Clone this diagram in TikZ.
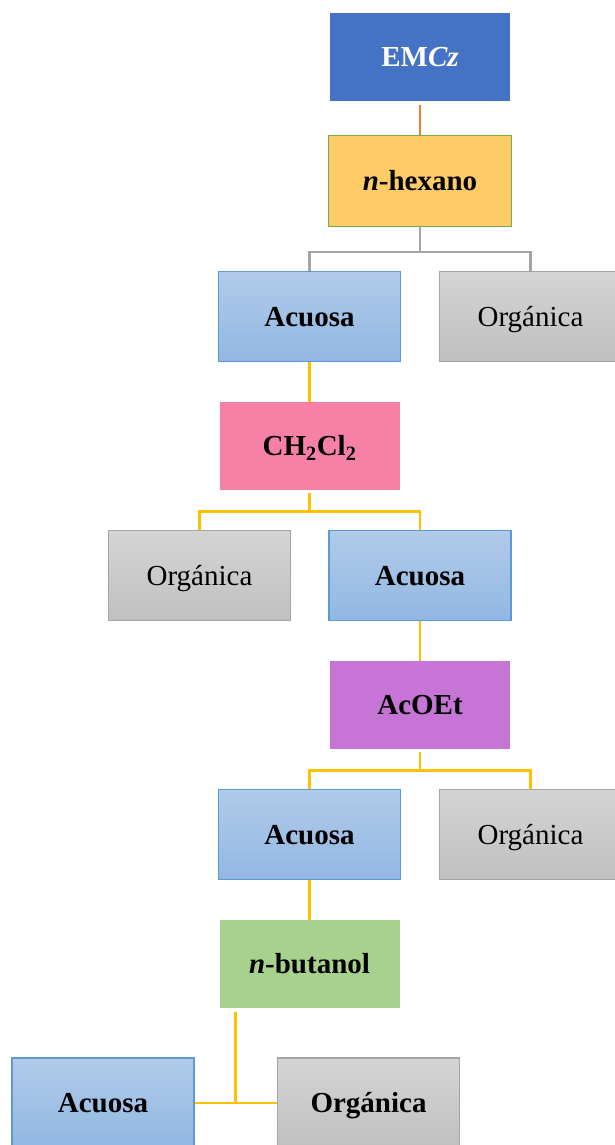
\documentclass[tikz,border=0pt]{standalone}
\usepackage{fontspec}
\setmainfont{Liberation Serif}
\usetikzlibrary{calc}
\definecolor{emcz}{HTML}{4472C4}
\definecolor{hexfill}{HTML}{FECB66}
\definecolor{hexline}{HTML}{70AD47}
\definecolor{aqtop}{HTML}{B1CBE9}
\definecolor{aqbot}{HTML}{92B7E3}
\definecolor{aqline}{HTML}{5B9BD5}
\definecolor{orgtop}{HTML}{D4D4D4}
\definecolor{orgbot}{HTML}{C0C0C0}
\definecolor{orgline}{HTML}{A5A5A5}
\definecolor{dcm}{HTML}{F780A6}
\definecolor{acoet}{HTML}{C774D7}
\definecolor{buoh}{HTML}{A9D18E}
\definecolor{linkyel}{HTML}{FFC000}
\definecolor{linkorg}{HTML}{ED7D31}
\begin{document}
\begin{tikzpicture}[x=1pt,y=-1pt,font=\fontsize{29}{33}\selectfont,
  solvent/.style={minimum width=180,minimum height=88,inner sep=0pt,text height=22pt,text depth=3pt,font=\fontsize{29}{33}\selectfont\bfseries},
  phase/.style={minimum width=182,minimum height=90,inner sep=0pt,text height=22pt,text depth=3pt,line width=1.2pt},
  aq/.style={phase,top color=aqtop,bottom color=aqbot,draw=aqline,font=\fontsize{29}{33}\selectfont\bfseries},
  org/.style={phase,top color=orgtop,bottom color=orgbot,draw=orgline},
  link/.style={line width=2.6pt,linkyel}]
\clip (0,0) rectangle (615,1145);
\fill[white] (0,0) rectangle (615,1145);
% solvents
\node[solvent,fill=emcz,text=white] (emcz) at (420,57) {EM\textit{Cz}};
\node[solvent,fill=hexfill,draw=hexline,line width=1.2pt,minimum width=183,minimum height=91] (hex) at (420,181) {\textit{n}-hexano};
\node[solvent,fill=dcm] (dcm) at (309.5,446) {CH\textsubscript{2}Cl\textsubscript{2}};
\node[solvent,fill=acoet] (acoet) at (420,705) {AcOEt};
\node[solvent,fill=buoh] (buoh) at (309.5,964) {\textit{n}-butanol};
% phases
\node[aq] (aq1) at (309.5,316.5) {Acuosa}; \node[org] (org1) at (530.5,316.5) {Orgánica};
\node[org] (org2) at (199.5,575.5) {Orgánica}; \node[aq] (aq2) at (420,575.5) {Acuosa};
\node[aq] (aq3) at (309.5,834.5) {Acuosa}; \node[org] (org3) at (530.5,834.5) {Orgánica};
\node[aq] (aq4) at (103,1103) {Acuosa}; \node[org,font=\fontsize{29}{33}\selectfont\bfseries] (org4) at (368.5,1103) {Orgánica};
% links
\draw[line width=2pt,linkorg,shorten <=4pt] (emcz.south) -- (hex.north);
\coordinate (j1) at ($(hex.south)+(0,25)$);
\draw[line width=2.6pt,orgline] (hex.south) -- (j1) -| (aq1.north); \draw[line width=2.6pt,orgline] (j1) -| (org1.north);
\draw[link] (aq1.south) -- (dcm.north);
\coordinate (j2) at ($(dcm.south)+(0,21)$);
\draw[link,shorten <=3pt] (dcm.south) -- (j2) -| (org2.north); \draw[link] (j2) -| (aq2.north);
\draw[link] (aq2.south) -- (acoet.north);
\coordinate (j3) at ($(acoet.south)+(0,21)$);
\draw[link,shorten <=3pt] (acoet.south) -- (j3) -| (aq3.north); \draw[link] (j3) -| (org3.north);
\draw[link] (aq3.south) -- (buoh.north);
\coordinate (j4) at ($(aq4.east)!0.5!(org4.west)$);
\draw[link] (aq4.east) -- (org4.west);
\draw[link,shorten >=4pt] (j4) -- (j4 |- buoh.south);
\end{tikzpicture}
\end{document}
